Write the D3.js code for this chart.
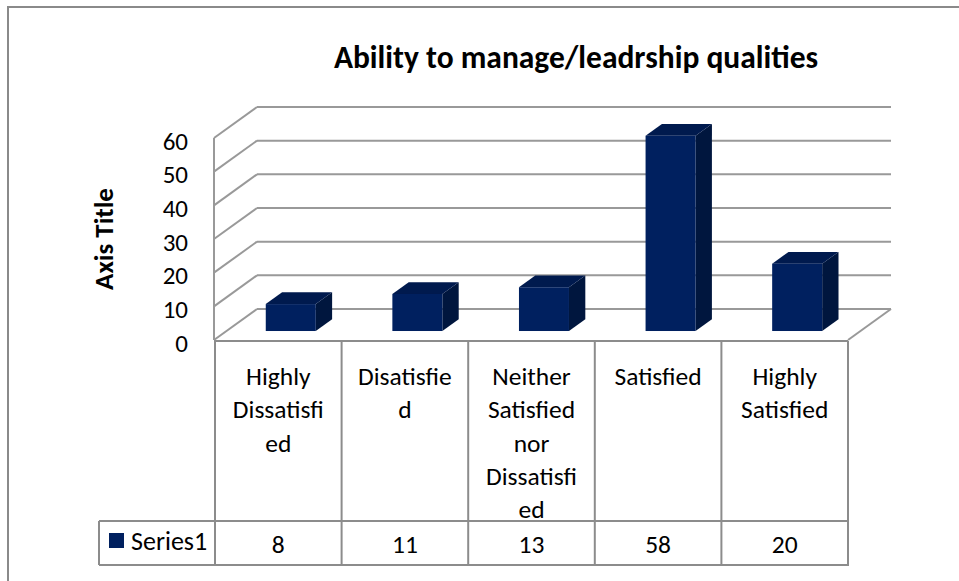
<!DOCTYPE html>
<html>
<head>
<meta charset="utf-8">
<script src="https://cdn.jsdelivr.net/npm/d3@7"></script>
<style>
  body { margin: 0; background: #fff; }
</style>
</head>
<body>
<div id="chart"></div>
<script>
var chartTitle = "Ability to manage/leadrship qualities";
var axisTitle = "Axis Title";
var seriesName = "Series1";
var categories = ["Highly Dissatisfied", "Disatisfied", "Neither Satisfied nor Dissatisfied", "Satisfied", "Highly Satisfied"];
// wrapped the way the table cells wrap them
var categoryLines = [
  ["Highly", "Dissatisfi", "ed"],
  ["Disatisfie", "d"],
  ["Neither", "Satisfied", "nor", "Dissatisfi", "ed"],
  ["Satisfied"],
  ["Highly", "Satisfied"]
];
var values = [8, 11, 13, 58, 20];
var yTicks = [0, 10, 20, 30, 40, 50, 60];

var width = 959, height = 581;
var depth = { dx: 43, dy: -31 };
var barFront = 0.29, barBack = 0.67;
var gridColor = "#999999", tableColor = "#8c8c8c";
var barColors = { front: "#00205f", top: "#001a4e", side: "#00163e" };
var font = "Carlito, Calibri, Lato, sans-serif";

var svg = d3.select("#chart").append("svg")
  .attr("width", width)
  .attr("height", height)
  .style("font-family", font);

var x = d3.scaleBand().domain(categories).range([215, 848]);
var y = d3.scaleLinear().domain([0, 60]).range([340, 138]);
var bw = x.bandwidth();
var barW = bw * 0.395;

// chart area border (only top and left visible)
svg.append("path")
  .attr("d", "M8," + height + "V7H" + width)
  .attr("fill", "none")
  .attr("stroke", "#8a8a8a")
  .attr("stroke-width", 2);

var x0 = x.range()[0] - 1, x1 = x.range()[1];

// back wall gridlines
var grid = svg.append("g").attr("stroke", gridColor).attr("stroke-width", 2);
grid.selectAll(".back")
  .data(yTicks)
  .enter().append("line")
  .attr("x1", x0 + depth.dx).attr("x2", x1 + depth.dx)
  .attr("y1", function(d) { return y(d) + depth.dy; })
  .attr("y2", function(d) { return y(d) + depth.dy; });
// side wall
grid.selectAll(".side")
  .data(yTicks)
  .enter().append("line")
  .attr("x1", x0).attr("x2", x0 + depth.dx)
  .attr("y1", function(d) { return y(d); })
  .attr("y2", function(d) { return y(d) + depth.dy; });
grid.append("line")
  .attr("x1", x0).attr("x2", x0)
  .attr("y1", y(0)).attr("y2", y(60));
grid.append("line")
  .attr("x1", x1).attr("x2", x1 + depth.dx)
  .attr("y1", y(0)).attr("y2", y(0) + depth.dy);

// bars
var dd = barBack - barFront;
var bars = svg.selectAll(".bar")
  .data(values)
  .enter().append("g")
  .attr("class", "bar");
bars.each(function(v, i) {
  var g = d3.select(this);
  var left = x(categories[i]) + (bw - barW) / 2 + barFront * depth.dx;
  var top = y(v) + barFront * depth.dy;
  var bottom = y(0) + barFront * depth.dy;
  var ox = dd * depth.dx, oy = dd * depth.dy;
  g.append("path")
    .attr("d", "M" + (left + barW) + "," + top + "l" + ox + "," + oy + "V" + (bottom + oy) + "L" + (left + barW) + "," + bottom + "Z")
    .attr("fill", barColors.side);
  g.append("path")
    .attr("d", "M" + left + "," + top + "H" + (left + barW) + "l" + ox + "," + oy + "H" + (left + ox) + "Z")
    .attr("fill", barColors.top);
  g.append("rect")
    .attr("x", left).attr("y", top)
    .attr("width", barW).attr("height", bottom - top)
    .attr("fill", barColors.front);
});

// y tick labels
svg.append("g").selectAll("text")
  .data(yTicks)
  .enter().append("text")
  .attr("x", 188)
  .attr("y", function(d) { return y(d) + 3; })
  .attr("text-anchor", "end")
  .attr("dominant-baseline", "central")
  .attr("font-size", 25)
  .attr("fill", "#000")
  .text(function(d) { return d; });

// data table
var tRow = 521, tBottom = 565, tLeft = 99;
var table = svg.append("g").attr("stroke", tableColor).attr("stroke-width", 2);
table.append("line").attr("x1", x0).attr("x2", x1).attr("y1", y(0) + 1).attr("y2", y(0) + 1);
table.append("line").attr("x1", tLeft).attr("x2", x1).attr("y1", tRow).attr("y2", tRow);
table.append("line").attr("x1", tLeft).attr("x2", x1 + 1).attr("y1", tBottom).attr("y2", tBottom);
table.append("line").attr("x1", tLeft).attr("x2", tLeft).attr("y1", tRow).attr("y2", tBottom);
table.selectAll(".col")
  .data(categories.concat([null]))
  .enter().append("line")
  .attr("x1", function(d) { return d ? x(d) : x1; })
  .attr("x2", function(d) { return d ? x(d) : x1; })
  .attr("y1", y(0) + 1).attr("y2", tBottom);

var labels = svg.append("g")
  .attr("font-size", 25.5)
  .attr("text-anchor", "middle")
  .attr("fill", "#000");
categoryLines.forEach(function(lines, i) {
  var t = labels.append("text")
    .attr("x", x(categories[i]) + bw / 2);
  lines.forEach(function(line, j) {
    t.append("tspan")
      .attr("x", x(categories[i]) + bw / 2)
      .attr("y", 385 + j * 33.3)
      .text(line);
  });
});
labels.selectAll(".val")
  .data(values)
  .enter().append("text")
  .attr("x", function(d, i) { return x(categories[i]) + bw / 2; })
  .attr("y", 553)
  .text(function(d) { return d; });

// legend key in table
svg.append("rect")
  .attr("x", 109).attr("y", 533)
  .attr("width", 15).attr("height", 15)
  .attr("fill", barColors.front);
svg.append("text")
  .attr("x", 131).attr("y", 550)
  .attr("font-size", 26)
  .text(seriesName);

// titles
svg.append("text")
  .attr("x", 576).attr("y", 68)
  .attr("text-anchor", "middle")
  .attr("font-size", 31.5)
  .attr("font-weight", "bold")
  .text(chartTitle);
svg.append("text")
  .attr("transform", "translate(113,239) rotate(-90)")
  .attr("text-anchor", "middle")
  .attr("font-size", 27)
  .attr("font-weight", "bold")
  .text(axisTitle);
</script>
</body>
</html>
